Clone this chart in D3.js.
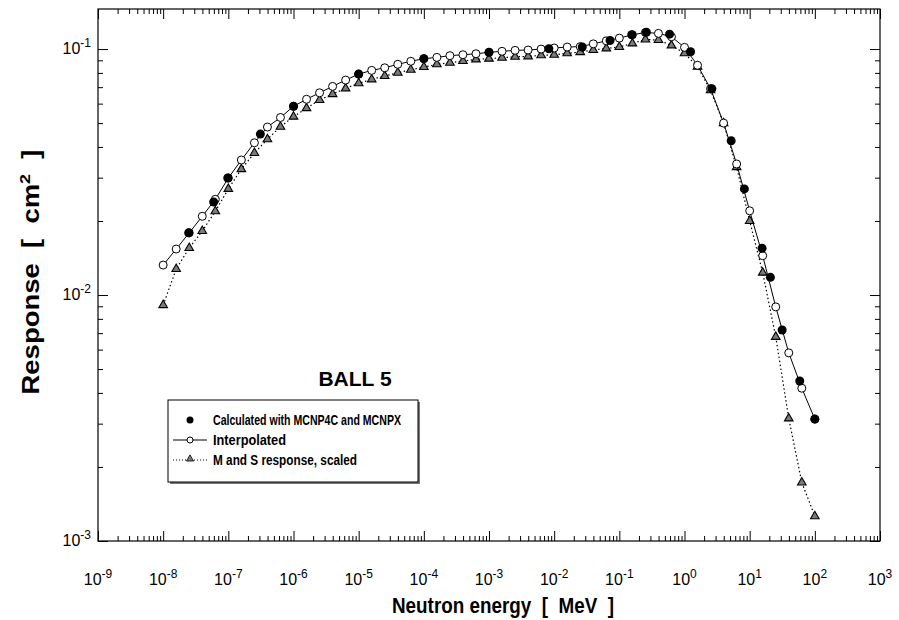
<!DOCTYPE html>
<html>
<head>
  <meta charset="utf-8">
  <script src="https://d3js.org/d3.v7.min.js"></script>
</head>
<style>
  body { margin: 0; background: #fff; }
  text { font-family: "Liberation Sans", Arial, sans-serif; }
</style>
<body>
  <svg width="899" height="620"></svg>

  <script>
    // energy grid of the interpolated and M&S curves (MeV)
    const gridEnergy = [
      1e-8, 1.585e-8, 2.512e-8, 3.981e-8, 6.310e-8,
      1e-7, 1.585e-7, 2.512e-7, 3.981e-7, 6.310e-7,
      1e-6, 1.585e-6, 2.512e-6, 3.981e-6, 6.310e-6,
      1e-5, 1.585e-5, 2.512e-5, 3.981e-5, 6.310e-5,
      1e-4, 1.585e-4, 2.512e-4, 3.981e-4, 6.310e-4,
      1e-3, 1.585e-3, 2.512e-3, 3.981e-3, 6.310e-3,
      1e-2, 1.585e-2, 2.512e-2, 3.981e-2, 6.310e-2,
      1e-1, 1.585e-1, 2.512e-1, 3.981e-1, 6.310e-1,
      1e0, 1.585, 2.512, 3.981, 6.310,
      1e1, 15.85, 25.12, 39.81, 63.10,
      1e2
    ];

    const interpolated = [
      0.01324, 0.01538, 0.0179, 0.0209, 0.0245,
      0.0299, 0.0354, 0.0416, 0.0482, 0.0527,
      0.0585, 0.0625, 0.0664, 0.0705, 0.0748,
      0.0791, 0.0819, 0.0839, 0.0867, 0.0892,
      0.0914, 0.0925, 0.0940, 0.0948, 0.0957,
      0.0970, 0.0979, 0.0988, 0.0991, 0.1000,
      0.1010, 0.1019, 0.1023, 0.1050, 0.1080,
      0.1108, 0.1143, 0.1168, 0.1158, 0.1122,
      0.1016, 0.0859, 0.0690, 0.0500, 0.0341,
      0.0220, 0.01445, 0.00895, 0.00582, 0.00418,
      0.00313
    ];

    const msScaled = [
      0.0091, 0.01276, 0.01553, 0.0182, 0.0219,
      0.0270, 0.0325, 0.0378, 0.0430, 0.0483,
      0.0531, 0.0575, 0.0621, 0.0656, 0.0692,
      0.0726, 0.0753, 0.0777, 0.0801, 0.0824,
      0.0845, 0.0867, 0.0880, 0.0894, 0.0908,
      0.0914, 0.0922, 0.0930, 0.0934, 0.0943,
      0.0948, 0.0961, 0.0972, 0.0991, 0.1006,
      0.1020, 0.1054, 0.1094, 0.1088, 0.1035,
      0.0961, 0.0848, 0.0680, 0.0499, 0.0331,
      0.0200, 0.01233, 0.00676, 0.00315, 0.00173,
      0.00126
    ];

    // MCNP calculated points
    const calcEnergy = [
      2.46e-8, 5.96e-8, 9.8e-8, 3.1e-7, 1e-6, 1e-5, 1e-4, 1e-3,
      8.3e-3, 2.7e-2, 7.2e-2, 0.155, 0.26, 0.59, 1.24, 2.63,
      5.2, 8.3, 15.5, 20.8, 31.5, 58.7, 100
    ];
    const calculated = [
      0.0179, 0.0239, 0.0299, 0.0451, 0.0585, 0.0791, 0.0914, 0.0970,
      0.1003, 0.1020, 0.1084, 0.1143, 0.1170, 0.1150, 0.0975, 0.0690,
      0.0424, 0.0270, 0.0155, 0.0118, 0.00721, 0.00447, 0.00313
    ];

    const xTickExp = [-9, -8, -7, -6, -5, -4, -3, -2, -1, 0, 1, 2, 3];
    const yTickExp = [-3, -2, -1];

    const legendLabels = ['Calculated with MCNP4C and MCNPX', 'Interpolated', 'M and S response, scaled'];

    // plot frame
    const plotLeft = 98, plotRight = 880, plotTop = 9, plotBottom = 541;

    const svg = d3.select('svg');

    const x = d3.scaleLog().domain([1e-9, 1e3]).range([plotLeft, plotRight]);
    const y = d3.scaleLog().domain([1e-3, 0.1455]).range([plotBottom, plotTop]);

    // minor tick positions 2..9 per decade
    function minors(exps, dom) {
      const out = [];
      exps.forEach(e => {
        for (let m = 2; m <= 9; m++) {
          const v = m * Math.pow(10, e);
          if (v > dom[0] && v < dom[1]) out.push(v);
        }
      });
      return out;
    }
    const xMajor = xTickExp.map(e => Math.pow(10, e));
    const yMajor = yTickExp.map(e => Math.pow(10, e));
    const xMinor = minors(xTickExp, x.domain());
    const yMinor = minors(yTickExp, y.domain());

    function tickGroup(axis, tr) {
      const g = svg.append('g').attr('transform', tr).call(axis);
      g.select('.domain').remove();
      g.selectAll('line').attr('stroke', '#000');
      return g;
    }

    // inward ticks on all four sides
    [[xMajor, 10], [xMinor, 5]].forEach(([vals, len]) => {
      tickGroup(d3.axisBottom(x).tickValues(vals).tickSize(-len).tickFormat(''), `translate(0,${plotBottom})`);
      tickGroup(d3.axisTop(x).tickValues(vals).tickSize(-len).tickFormat(''), `translate(0,${plotTop})`);
    });
    [[yMajor, 10], [yMinor, 5]].forEach(([vals, len]) => {
      tickGroup(d3.axisLeft(y).tickValues(vals).tickSize(-len).tickFormat(''), `translate(${plotLeft},0)`);
      tickGroup(d3.axisRight(y).tickValues(vals).tickSize(-len).tickFormat(''), `translate(${plotRight},0)`);
    });

    svg.append('rect')
      .attr('x', plotLeft).attr('y', plotTop)
      .attr('width', plotRight - plotLeft).attr('height', plotBottom - plotTop)
      .attr('fill', 'none').attr('stroke', '#000').attr('stroke-width', 1.2);

    // tick labels, 10 with superscript exponent
    function powLabel(sel) {
      sel.append('tspan').text('10');
      sel.append('tspan')
        .attr('dy', -7)
        .style('font-size', '12px')
        .text(d => d);
    }

    svg.selectAll('.xlab')
      .data(xTickExp)
      .enter()
      .append('text')
      .attr('class', 'xlab')
      .attr('x', d => x(Math.pow(10, d)))
      .attr('y', 585)
      .attr('text-anchor', 'middle')
      .style('font-size', '16px')
      .call(powLabel);

    svg.selectAll('.ylab')
      .data(yTickExp)
      .enter()
      .append('text')
      .attr('class', 'ylab')
      .attr('x', 91)
      .attr('y', d => y(Math.pow(10, d)) + 5)
      .attr('text-anchor', 'end')
      .style('font-size', '16px')
      .call(powLabel);

    // axis titles
    svg.append('text')
      .attr('x', 503)
      .attr('y', 613)
      .attr('text-anchor', 'middle')
      .attr('textLength', 222)
      .attr('lengthAdjust', 'spacingAndGlyphs')
      .style('font-size', '22px')
      .style('font-weight', 'bold')
      .style('white-space', 'pre')
      .text('Neutron energy  [  MeV  ]');

    const yTitle = svg.append('text')
      .attr('transform', 'translate(39,272) rotate(-90)')
      .attr('text-anchor', 'middle')
      .attr('textLength', 245)
      .attr('lengthAdjust', 'spacingAndGlyphs')
      .style('font-size', '23px')
      .style('font-weight', 'bold')
      .style('white-space', 'pre');
    yTitle.append('tspan').text('Response  [  cm');
    yTitle.append('tspan').attr('dy', -9).style('font-size', '15px').text('2');
    yTitle.append('tspan').attr('dy', 9).text('  ]');

    // series
    const interp = gridEnergy.map((e, i) => ({e: e, v: interpolated[i]}));
    const ms = gridEnergy.map((e, i) => ({e: e, v: msScaled[i]}));
    const calc = calcEnergy.map((e, i) => ({e: e, v: calculated[i]}));

    const line = d3.line().x(d => x(d.e)).y(d => y(d.v));
    const tri = d3.symbol().type(d3.symbolTriangle).size(32);

    svg.append('path')
      .datum(ms)
      .attr('d', line)
      .attr('fill', 'none')
      .attr('stroke', '#000')
      .attr('stroke-width', 1.2)
      .attr('stroke-dasharray', '1.5,2.5');

    svg.selectAll('.tri')
      .data(ms)
      .enter()
      .append('path')
      .attr('class', 'tri')
      .attr('d', tri)
      .attr('transform', d => `translate(${x(d.e)},${y(d.v)})`)
      .attr('fill', '#7a7a7a')
      .attr('stroke', '#000')
      .attr('stroke-width', 1.1);

    svg.append('path')
      .datum(interp)
      .attr('d', line)
      .attr('fill', 'none')
      .attr('stroke', '#000')
      .attr('stroke-width', 1);

    svg.selectAll('.open')
      .data(interp)
      .enter()
      .append('circle')
      .attr('class', 'open')
      .attr('cx', d => x(d.e))
      .attr('cy', d => y(d.v))
      .attr('r', 4)
      .attr('fill', '#fff')
      .attr('stroke', '#000')
      .attr('stroke-width', 1);

    svg.selectAll('.calc')
      .data(calc)
      .enter()
      .append('circle')
      .attr('class', 'calc')
      .attr('cx', d => x(d.e))
      .attr('cy', d => y(d.v))
      .attr('r', 4.5)
      .attr('fill', '#000');

    // title inside plot
    svg.append('text')
      .attr('x', 355)
      .attr('y', 386)
      .attr('text-anchor', 'middle')
      .style('font-size', '21px')
      .style('font-weight', 'bold')
      .text('BALL 5');

    // legend box with shadow
    const lg = svg.append('g').attr('transform', 'translate(168,400)');
    lg.append('rect').attr('x', 2).attr('y', 2).attr('width', 250).attr('height', 82).attr('fill', '#777');
    lg.append('rect').attr('width', 250).attr('height', 82).attr('fill', '#fff').attr('stroke', '#000').attr('stroke-width', 1);

    lg.append('circle').attr('cx', 22).attr('cy', 20).attr('r', 3.5).attr('fill', '#000');

    lg.append('line').attr('x1', 5).attr('x2', 39).attr('y1', 40).attr('y2', 40).attr('stroke', '#000');
    lg.append('circle').attr('cx', 22).attr('cy', 40).attr('r', 3).attr('fill', '#fff').attr('stroke', '#000');

    lg.append('line').attr('x1', 5).attr('x2', 39).attr('y1', 60).attr('y2', 60)
      .attr('stroke', '#000').attr('stroke-dasharray', '1,2');
    lg.append('path').attr('d', d3.symbol().type(d3.symbolTriangle).size(22))
      .attr('transform', 'translate(22,59)')
      .attr('fill', '#7a7a7a').attr('stroke', '#000').attr('stroke-width', 0.8);

    const legendWidths = [188, 73, 144];
    lg.selectAll('.lt')
      .data(legendLabels)
      .enter()
      .append('text')
      .attr('class', 'lt')
      .attr('x', 45)
      .attr('y', (d, i) => 25 + i * 20)
      .attr('textLength', (d, i) => legendWidths[i])
      .attr('lengthAdjust', 'spacingAndGlyphs')
      .style('font-size', '14px')
      .style('font-weight', 'bold')
      .text(d => d);
  </script>
</body>
</html>
